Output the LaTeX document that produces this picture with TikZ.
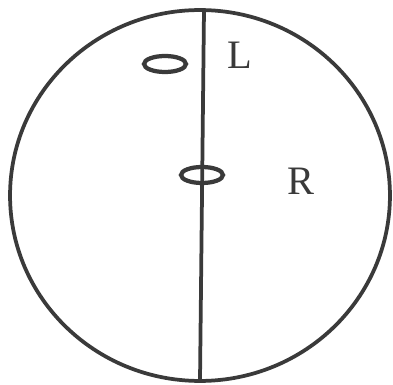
\documentclass[tikz,border=0pt]{standalone}
\usepackage{fontspec}
\setmainfont{Liberation Serif}
\usetikzlibrary{shapes.geometric}
\definecolor{inkgray}{HTML}{3A3A3A}
\tikzset{
  ring/.style={draw=inkgray, line width=0.075cm},
  loop/.style={draw=inkgray, ellipse, line width=0.085cm, inner sep=0pt,
    minimum width=0.84cm, minimum height=0.32cm},
  letter/.style={text=inkgray, font=\fontsize{23}{27}\selectfont}
}
\begin{document}
\begin{tikzpicture}[x=0.02cm, y=-0.02cm]
\useasboundingbox (0,0) rectangle (393,385);
\draw[ring] (200,195.5) ellipse [x radius=3.8cm, y radius=3.71cm];
\coordinate (top) at (204,10);
\coordinate (bottom) at (200,381);
\draw[ring] (top) -- (bottom);
\node[loop] (upper) at (165,64) {};
\node[loop] (middle) at (202,175) {};
\node[letter] (L) at (240,55) {L};
\node[letter] (R) at (301,181) {R};
\end{tikzpicture}
\end{document}
